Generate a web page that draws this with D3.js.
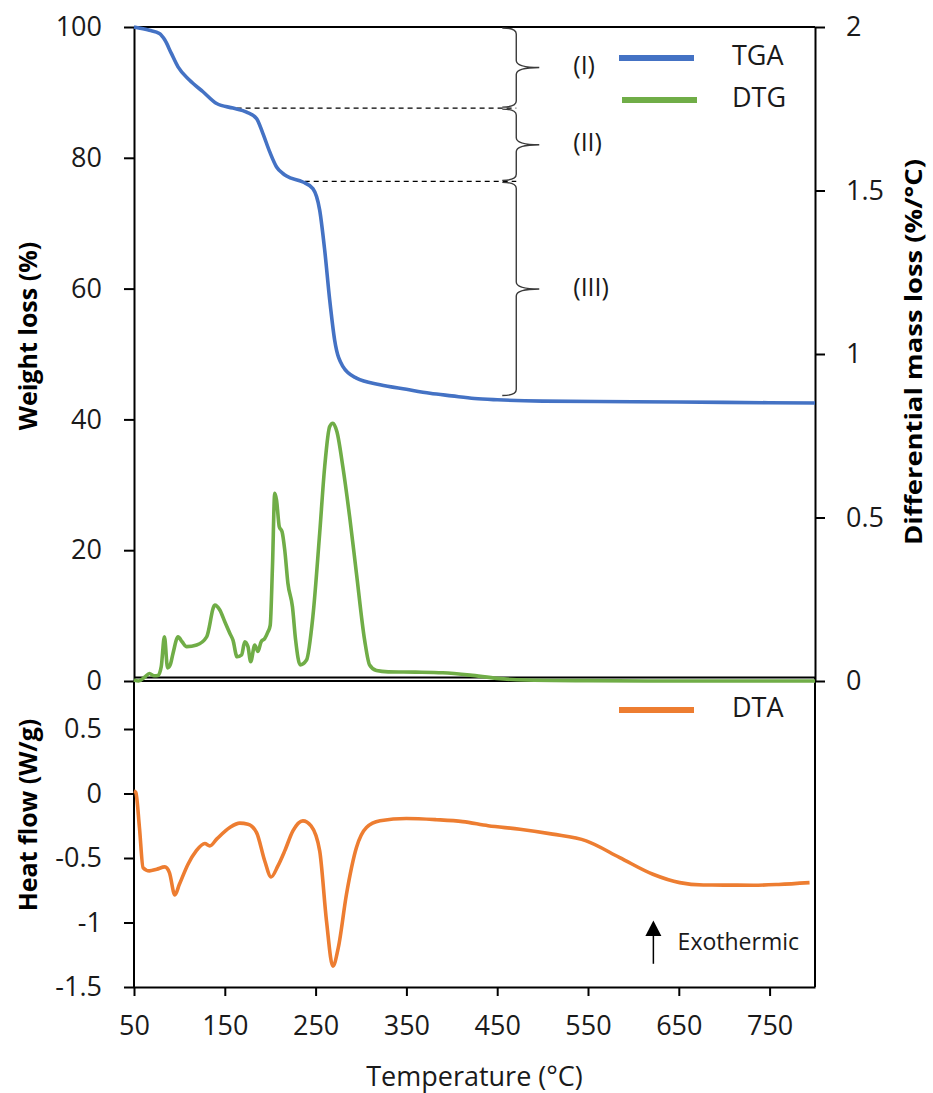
<!DOCTYPE html>
<html>
<head>
<meta charset="utf-8">
<script src="https://cdn.jsdelivr.net/npm/d3@7"></script>
<style>
  body { margin: 0; background: #fff; }
  svg { display: block; font-family: "Open Sans", "Noto Sans", sans-serif; }
  .axis path, .axis line { stroke: #000; stroke-width: 2px; }
  .axis text { font-size: 27px; fill: #1a1a1a; font-family: "Open Sans", "Noto Sans", sans-serif; }
  .title { font-weight: bold; fill: #000; }
</style>
</head>
<body>
<div class="chart"></div>
<script>
// Values
const tgaTemp = [50, 67, 78, 84, 91, 98.5, 111, 126, 141, 159, 174, 185, 192, 199.5, 207, 214, 218, 236, 247, 254.5, 260, 265.5, 271, 280, 295, 321, 350, 376, 400, 425, 450, 500, 600, 700, 800];
const tgaWeight = [100, 99.5, 99.0, 98.0, 96.0, 93.9, 91.9, 90.1, 88.3, 87.6, 87.0, 86.0, 83.7, 80.9, 78.6, 77.6, 77.2, 76.3, 75.3, 72.0, 65.9, 58.3, 52.1, 48.1, 46.3, 45.3, 44.6, 44.0, 43.6, 43.2, 43.0, 42.8, 42.7, 42.6, 42.5];

const dtgTemp = [50, 55, 62, 67, 72, 76.5, 80, 83.5, 87, 90, 93, 98.5, 103, 108, 119, 130, 139, 144.5, 150, 155.5, 159, 163.5, 168.5, 172, 175.5, 178.5, 183, 186.5, 190, 194, 197.5, 200, 202.5, 205, 207, 210, 213, 216, 219.5, 224.5, 228, 233, 240, 247, 254.5, 260, 265.5, 269, 273.5, 280, 287.5, 295, 304, 309.5, 317, 330, 360, 390, 420, 450, 480, 550, 650, 800];
const dtgRate = [0.003, 0.0, 0.012, 0.023, 0.016, 0.017, 0.044, 0.135, 0.04, 0.05, 0.085, 0.135, 0.12, 0.105, 0.11, 0.135, 0.232, 0.217, 0.181, 0.146, 0.125, 0.074, 0.08, 0.12, 0.105, 0.059, 0.11, 0.09, 0.12, 0.13, 0.15, 0.17, 0.35, 0.574, 0.553, 0.472, 0.457, 0.401, 0.299, 0.227, 0.125, 0.049, 0.064, 0.197, 0.452, 0.655, 0.778, 0.788, 0.762, 0.655, 0.502, 0.329, 0.125, 0.049, 0.032, 0.028, 0.027, 0.025, 0.018, 0.008, 0.003, 0.001, 0.0, 0.0];

const dtaTemp = [50, 52, 56, 60, 67, 75, 84, 89, 95, 100, 109.5, 118.5, 128, 133.5, 141, 155.5, 166.5, 175.5, 185, 194, 201, 208.5, 216, 225, 236, 245, 254.5, 262, 269, 275, 284, 295, 306, 321, 350, 383, 412, 440, 475, 511, 548, 585, 621.5, 651, 677, 700, 732, 760, 794];
const dtaHeat = [0.02, 0.008, -0.264, -0.575, -0.6, -0.587, -0.569, -0.613, -0.786, -0.704, -0.548, -0.445, -0.388, -0.406, -0.354, -0.264, -0.23, -0.238, -0.303, -0.523, -0.647, -0.561, -0.445, -0.29, -0.212, -0.251, -0.445, -0.988, -1.338, -1.195, -0.781, -0.419, -0.264, -0.212, -0.194, -0.203, -0.218, -0.25, -0.277, -0.315, -0.367, -0.497, -0.626, -0.691, -0.709, -0.71, -0.711, -0.705, -0.691];

// decomposition stages (weight % at start and end of each)
const stageLabels = ['(I)', '(II)', '(III)'];
const stageFrom = [100, 87.6, 76.4];
const stageTo = [87.6, 76.4, 43.5];
const guideTemp = [163, 238];

const tempTicks = [50, 150, 250, 350, 450, 550, 650, 750];
const weightTicks = [0, 20, 40, 60, 80, 100];
const rateTicks = [0, 0.5, 1, 1.5, 2];
const heatTicks = [-1.5, -1, -0.5, 0, 0.5];

// Layout
const W = 933, H = 1093;
const margin = {top: 27, right: 118, bottom: 106, left: 134};
const split = 681; // boundary between the two panels
const bottomY = H - margin.bottom;
const blue = '#4472C4', green = '#70AD47', orange = '#ED7D31';

const x = d3.scaleLinear().domain([50, 800]).range([margin.left, W - margin.right]);
const yW = d3.scaleLinear().domain([0, 100]).range([split, margin.top]);
const yD = d3.scaleLinear().domain([0, 2]).range([split, margin.top]);
const yH = d3.scaleLinear().domain([-1.5, 0.5]).range([bottomY, 729]);

const svg = d3.select('.chart').append('svg')
    .attr('width', W)
    .attr('height', H);

const fmt = d => String(d);

// frame lines
const frame = svg.append('g').attr('stroke', '#000').attr('stroke-width', 2);
frame.append('line').attr('x1', x(50)).attr('x2', x(800)).attr('y1', margin.top).attr('y2', margin.top);
frame.append('line').attr('x1', x(50)).attr('x2', x(800)).attr('y1', split - 3.5).attr('y2', split - 3.5);
frame.append('line').attr('x1', x(50)).attr('x2', x(800)).attr('y1', split).attr('y2', split);
frame.append('line').attr('x1', x(800)).attr('x2', x(800)).attr('y1', split - 4).attr('y2', bottomY);

// axes
svg.append('g').attr('class', 'axis')
    .attr('transform', `translate(${margin.left},0)`)
    .call(d3.axisLeft(yW).tickValues(weightTicks).tickFormat(fmt).tickSize(10).tickSizeOuter(0).tickPadding(22));

svg.append('g').attr('class', 'axis')
    .attr('transform', `translate(${margin.left},0)`)
    .call(d3.axisLeft(yH).tickValues(heatTicks).tickFormat(fmt).tickSize(10).tickSizeOuter(0).tickPadding(22))
    .select('.domain').attr('d', `M0,${split}V${bottomY}`);

svg.append('g').attr('class', 'axis')
    .attr('transform', `translate(${W - margin.right},0)`)
    .call(d3.axisRight(yD).tickValues(rateTicks).tickFormat(fmt).tickSize(10).tickSizeOuter(0).tickPadding(21));

svg.append('g').attr('class', 'axis')
    .attr('transform', `translate(0,${bottomY})`)
    .call(d3.axisBottom(x).tickValues(tempTicks).tickFormat(fmt).tickSize(9).tickSizeOuter(0).tickPadding(20));

// axis titles
svg.append('text').attr('class', 'title')
    .attr('transform', 'translate(30,336) rotate(-90)')
    .attr('text-anchor', 'middle').attr('dominant-baseline', 'middle')
    .style('font-size', '25px').text('Weight loss (%)');
svg.append('text').attr('class', 'title')
    .attr('transform', 'translate(30,815) rotate(-90)')
    .attr('text-anchor', 'middle').attr('dominant-baseline', 'middle')
    .style('font-size', '25px').text('Heat flow (W/g)');
svg.append('text').attr('class', 'title')
    .attr('transform', 'translate(916,352) rotate(-90)')
    .attr('text-anchor', 'middle').attr('dominant-baseline', 'middle')
    .attr('textLength', 386).attr('lengthAdjust', 'spacingAndGlyphs')
    .style('font-size', '24px').text('Differential mass loss (%/°C)');
svg.append('text')
    .attr('x', (x(50) + x(800)) / 2).attr('y', 1086)
    .attr('text-anchor', 'middle')
    .style('font-size', '27px').attr('fill', '#1a1a1a').text('Temperature (°C)');

// dashed guides and stage braces
const braceX = x(471);
svg.append('g').selectAll('line')
  .data(guideTemp)
  .join('line')
    .attr('x1', d => x(d))
    .attr('x2', braceX)
    .attr('y1', (d, i) => yW(stageTo[i]))
    .attr('y2', (d, i) => yW(stageTo[i]))
    .attr('stroke', '#000')
    .attr('stroke-width', 1.3)
    .attr('stroke-dasharray', '5,4');

function bracePath(y0, y1) {
  const ym = (y0 + y1) / 2, hook = 14, r = 7, tip = 23;
  return `M${braceX - hook},${y0 + 1}Q${braceX},${y0 + 1} ${braceX},${y0 + r}` +
    `V${ym - r}Q${braceX},${ym} ${braceX + tip},${ym}` +
    `Q${braceX},${ym} ${braceX},${ym + r}` +
    `V${y1 - r}Q${braceX},${y1 - 1} ${braceX - hook},${y1 - 1}`;
}

const stages = svg.append('g');
stages.selectAll('path')
  .data(stageLabels)
  .join('path')
    .attr('d', (d, i) => bracePath(yW(stageFrom[i]), yW(stageTo[i])))
    .attr('fill', 'none')
    .attr('stroke', '#3a3a3a')
    .attr('stroke-width', 1.4);
stages.selectAll('text')
  .data(stageLabels)
  .join('text')
    .attr('x', braceX + 57)
    .attr('y', (d, i) => (yW(stageFrom[i]) + yW(stageTo[i])) / 2)
    .attr('dominant-baseline', 'middle')
    .style('font-size', '25px')
    .attr('fill', '#1a1a1a')
    .text(d => d);

// curves
const tgaLine = d3.line().x(d => x(d[0])).y(d => yW(d[1])).curve(d3.curveMonotoneX);
const dtgLine = d3.line().x(d => x(d[0])).y(d => yD(d[1])).curve(d3.curveMonotoneX);
const dtaLine = d3.line().x(d => x(d[0])).y(d => yH(d[1])).curve(d3.curveMonotoneX);

svg.append('path')
    .attr('d', dtgLine(d3.zip(dtgTemp, dtgRate)))
    .attr('fill', 'none').attr('stroke', green).attr('stroke-width', 3.6)
    .attr('stroke-linejoin', 'round');
svg.append('path')
    .attr('d', tgaLine(d3.zip(tgaTemp, tgaWeight)))
    .attr('fill', 'none').attr('stroke', blue).attr('stroke-width', 3.6)
    .attr('stroke-linejoin', 'round');
svg.append('path')
    .attr('d', dtaLine(d3.zip(dtaTemp, dtaHeat)))
    .attr('fill', 'none').attr('stroke', orange).attr('stroke-width', 3.6)
    .attr('stroke-linejoin', 'round');

// legends
const legendItems = [
  {name: 'TGA', color: blue, x: 619, y: 58},
  {name: 'DTG', color: green, x: 622, y: 100},
  {name: 'DTA', color: orange, x: 619, y: 710},
];
const legend = svg.append('g').selectAll('g')
  .data(legendItems)
  .join('g')
    .attr('transform', d => `translate(${d.x},${d.y})`);
legend.append('line')
    .attr('x2', 75)
    .attr('stroke', d => d.color)
    .attr('stroke-width', 6);
legend.append('text')
    .attr('x', d => 732 - d.x)
    .attr('dominant-baseline', 'middle')
    .style('font-size', '27px')
    .attr('fill', '#1a1a1a')
    .text(d => d.name);

// exothermic arrow
const ax = x(622);
svg.append('line')
    .attr('x1', ax).attr('x2', ax)
    .attr('y1', yH(-1.32)).attr('y2', yH(-1.07))
    .attr('stroke', '#000').attr('stroke-width', 1.5);
svg.append('path')
    .attr('d', `M${ax},${yH(-0.985)}L${ax - 8},${yH(-1.105)}L${ax + 8},${yH(-1.105)}Z`)
    .attr('fill', '#000');
svg.append('text')
    .attr('x', x(648.7)).attr('y', yH(-1.21))
    .style('font-size', '23px')
    .attr('fill', '#1a1a1a')
    .text('Exothermic');
</script>
</body>
</html>
